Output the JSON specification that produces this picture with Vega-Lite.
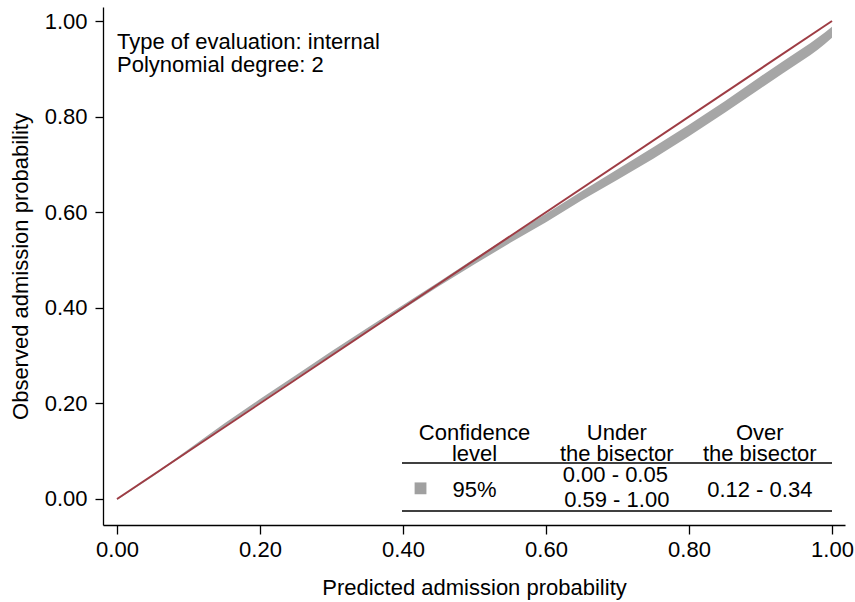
{
  "$schema": "https://vega.github.io/schema/vega-lite/v6.json",
  "width": 742,
  "height": 518,
  "autosize": "none",
  "padding": {"left": 103, "top": 7, "right": 10, "bottom": 77},
  "background": "white",
  "config": {
    "view": {"stroke": null},
    "font": "Liberation Sans",
    "axis": {
      "grid": false,
      "domainColor": "#000000",
      "domainWidth": 1.3,
      "tickColor": "#000000",
      "tickWidth": 1.3,
      "labelColor": "#000000",
      "titleColor": "#000000",
      "labelFont": "Liberation Sans",
      "titleFont": "Liberation Sans",
      "labelFontSize": 22,
      "titleFontSize": 22,
      "titleFontWeight": "normal",
      "labelFlush": false,
      "labelOverlap": false
    }
  },
  "datasets": {
    "band": [
      {"pred": 0.00, "lo": -0.002, "hi": 0.000},
      {"pred": 0.05, "lo": 0.047, "hi": 0.050},
      {"pred": 0.10, "lo": 0.099, "hi": 0.104},
      {"pred": 0.15, "lo": 0.151, "hi": 0.158},
      {"pred": 0.20, "lo": 0.202, "hi": 0.209},
      {"pred": 0.25, "lo": 0.252, "hi": 0.259},
      {"pred": 0.30, "lo": 0.3015, "hi": 0.309},
      {"pred": 0.35, "lo": 0.350, "hi": 0.358},
      {"pred": 0.40, "lo": 0.397, "hi": 0.406},
      {"pred": 0.45, "lo": 0.445, "hi": 0.454},
      {"pred": 0.50, "lo": 0.491, "hi": 0.503},
      {"pred": 0.55, "lo": 0.536, "hi": 0.551},
      {"pred": 0.60, "lo": 0.579, "hi": 0.597},
      {"pred": 0.65, "lo": 0.625, "hi": 0.644},
      {"pred": 0.70, "lo": 0.668, "hi": 0.690},
      {"pred": 0.75, "lo": 0.712, "hi": 0.736},
      {"pred": 0.80, "lo": 0.759, "hi": 0.783},
      {"pred": 0.85, "lo": 0.808, "hi": 0.832},
      {"pred": 0.90, "lo": 0.859, "hi": 0.884},
      {"pred": 0.93, "lo": 0.889, "hi": 0.914},
      {"pred": 0.95, "lo": 0.909, "hi": 0.934},
      {"pred": 0.97, "lo": 0.929, "hi": 0.954},
      {"pred": 0.98, "lo": 0.940, "hi": 0.965},
      {"pred": 0.99, "lo": 0.952, "hi": 0.976},
      {"pred": 1.00, "lo": 0.965, "hi": 0.988}
    ],
    "bisector": [
      {"pred": 0, "obs": 0},
      {"pred": 1, "obs": 1}
    ],
    "notes": [
      {"x": 0, "y": 0.941, "label": "Type of evaluation: internal"},
      {"x": 0, "y": 0.893, "label": "Polynomial degree: 2"}
    ],
    "tabletext": [
      {"x": 0.5, "y": 0.1234, "label": "Confidence"},
      {"x": 0.5, "y": 0.0795, "label": "level"},
      {"x": 0.699, "y": 0.1234, "label": "Under"},
      {"x": 0.699, "y": 0.0795, "label": "the bisector"},
      {"x": 0.899, "y": 0.1234, "label": "Over"},
      {"x": 0.899, "y": 0.0795, "label": "the bisector"},
      {"x": 0.5, "y": 0.005, "label": "95%"},
      {"x": 0.697, "y": 0.0362, "label": "0.00 - 0.05"},
      {"x": 0.699, "y": -0.0174, "label": "0.59 - 1.00"},
      {"x": 0.899, "y": 0.005, "label": "0.12 - 0.34"}
    ],
    "tablerules": [
      {"x": 0.3986, "x2": 1.0, "y": 0.0753},
      {"x": 0.3986, "x2": 1.0, "y": -0.0251}
    ],
    "tablekey": [
      {"x": 0.4245, "y": 0.0223}
    ]
  },
  "layer": [
    {
      "data": {"name": "band"},
      "mark": {"type": "area", "color": "#a6a6a6", "opacity": 1},
      "encoding": {
        "x": {
          "field": "pred", "type": "quantitative",
          "scale": {"domain": [-0.0196, 1.0182], "nice": false, "zero": false},
          "axis": {
            "title": "Predicted admission probability",
            "values": [0, 0.2, 0.4, 0.6, 0.8, 1.0],
            "format": ".2f",
            "tickSize": 9,
            "labelPadding": 5,
            "titlePadding": 17
          }
        },
        "y": {
          "field": "lo", "type": "quantitative",
          "scale": {"domain": [-0.0544, 1.0293], "nice": false, "zero": false},
          "axis": {
            "title": "Observed admission probability",
            "values": [0, 0.2, 0.4, 0.6, 0.8, 1.0],
            "format": ".2f",
            "tickSize": 8,
            "labelPadding": 8,
            "titlePadding": 12
          }
        },
        "y2": {"field": "hi"}
      }
    },
    {
      "data": {"name": "bisector"},
      "mark": {"type": "line", "color": "#9e3c44", "strokeWidth": 2},
      "encoding": {
        "x": {"field": "pred", "type": "quantitative"},
        "y": {"field": "obs", "type": "quantitative"}
      }
    },
    {
      "data": {"name": "notes"},
      "mark": {"type": "text", "align": "left", "baseline": "alphabetic", "fontSize": 22, "color": "#000000"},
      "encoding": {
        "x": {"field": "x", "type": "quantitative"},
        "y": {"field": "y", "type": "quantitative"},
        "text": {"field": "label"}
      }
    },
    {
      "data": {"name": "tabletext"},
      "mark": {"type": "text", "align": "center", "baseline": "alphabetic", "fontSize": 22, "color": "#000000"},
      "encoding": {
        "x": {"field": "x", "type": "quantitative"},
        "y": {"field": "y", "type": "quantitative"},
        "text": {"field": "label"}
      }
    },
    {
      "data": {"name": "tablerules"},
      "mark": {"type": "rule", "color": "#000000", "strokeWidth": 1.5},
      "encoding": {
        "x": {"field": "x", "type": "quantitative"},
        "x2": {"field": "x2"},
        "y": {"field": "y", "type": "quantitative"}
      }
    },
    {
      "data": {"name": "tablekey"},
      "mark": {"type": "square", "color": "#a0a0a0", "size": 140, "opacity": 1, "filled": true},
      "encoding": {
        "x": {"field": "x", "type": "quantitative"},
        "y": {"field": "y", "type": "quantitative"}
      }
    }
  ]
}
